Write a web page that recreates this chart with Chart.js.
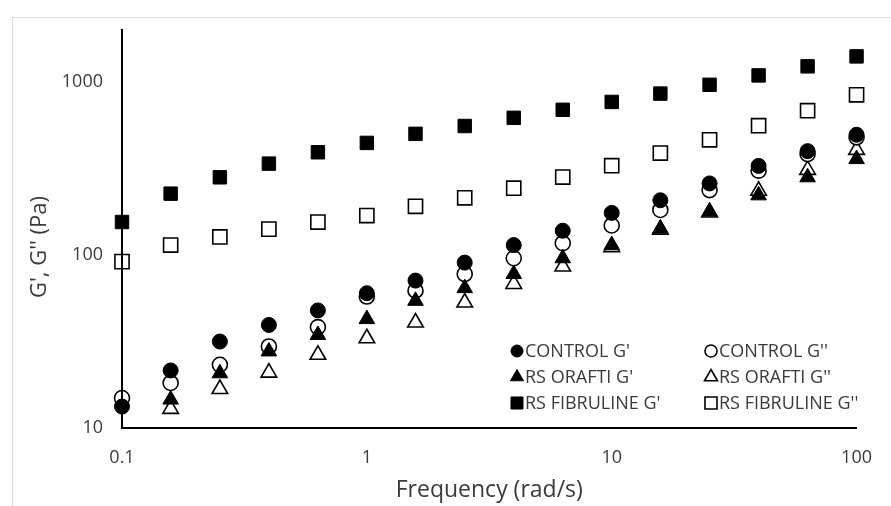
<!DOCTYPE html>
<html>
<head>
<meta charset="utf-8">
<script src="https://cdn.jsdelivr.net/npm/chart.js@4.4.1/dist/chart.umd.min.js"></script>
<style>
    html, body { margin: 0; padding: 0; background: #fff; overflow: hidden; }
</style>
</head>
<body>
<canvas id="grafica_g" width="891" height="506"></canvas>
<script>
// Barrido de frecuencia: modulo elastico (G') y viscoso (G'') de cada muestra.
var frecuencia = [0.1, 0.158, 0.251, 0.398, 0.631, 1, 1.58, 2.51, 3.98, 6.31,
    10, 15.8, 25.1, 39.8, 63.1, 100];
var controlG1 = [13.3, 21.5, 31.6, 39.4, 47.8, 60.1, 71.1, 90.3, 114, 138,
    175, 207, 259, 327, 398, 495];
var controlG2 = [14.9, 18.2, 23.2, 29.6, 38.3, 57.5, 62.2, 77.6, 95.7, 117,
    148, 182, 237, 307, 383, 478];
var oraftiG1 = [null, 14.6, 20.7, 27.7, 34.5, 42.6, 54.3, 64.3, 77.6, 95.7,
    114, 142, 178, 221, 281, 358];
var oraftiG2 = [null, 12.9, 16.8, 20.9, 26.5, 33.0, 40.7, 53.1, 68.0, 85.7,
    111, 140, 176, 235, 310, 405];
var fibrulineG1 = [155, 226, 281, 337, 392, 444, 501, 556, 620, 690,
    766, 856, 962, 1090, 1230, 1404];
var fibrulineG2 = [91.5, 114, 127, 141, 155, 169, 191, 214, 243, 282,
    328, 388, 463, 558, 682, 842];
var ticksX = [0.1, 1, 10, 100];
var ticksY = [10, 100, 1000];
var etiquetas = ["CONTROL G'", "CONTROL G''", "RS ORAFTI G'", "RS ORAFTI G''",
    "RS FIBRULINE G'", "RS FIBRULINE G''"];

var colorTexto = '#3a3a3a';
var fuente = "'Open Sans', sans-serif";

function puntos(valores) {
    return frecuencia.map(function (f, i) {
        return { x: f, y: valores[i] };
    });
}

// Crea un dataset de solo marcadores, relleno o hueco.
function getScatterDataSet(label, valores, estilo, radio, relleno, orden) {
    return {
        label: label,
        data: puntos(valores),
        pointStyle: estilo,
        pointRadius: radio,
        pointHoverRadius: radio,
        pointBorderWidth: relleno ? 1 : 1.6,
        pointBorderColor: '#000',
        pointBackgroundColor: relleno ? '#000' : '#fff',
        showLine: false,
        clip: false,
        order: orden
    };
}

var datasets = [
    getScatterDataSet(etiquetas[0], controlG1, 'circle', 7.5, true, 0),
    getScatterDataSet(etiquetas[1], controlG2, 'circle', 7.5, false, 2),
    getScatterDataSet(etiquetas[2], oraftiG1, 'triangle', 9, true, 1),
    getScatterDataSet(etiquetas[3], oraftiG2, 'triangle', 9, false, 3),
    getScatterDataSet(etiquetas[4], fibrulineG1, 'rect', 9.5, true, 4),
    getScatterDataSet(etiquetas[5], fibrulineG2, 'rect', 10, false, 5)
];

// Marco gris del area del grafico.
var marco = {
    id: 'marco',
    beforeDraw: function (chart) {
        var ctx = chart.ctx;
        ctx.save();
        ctx.strokeStyle = '#d9d9d9';
        ctx.lineWidth = 1;
        ctx.strokeRect(12.5, 17.5, 1000, 1000);
        ctx.restore();
    }
};

// Titulo del eje Y y leyenda en dos columnas dentro del area de trazado.
var extras = {
    id: 'extras',
    afterDraw: function (chart) {
        var ctx = chart.ctx;
        ctx.save();
        ctx.fillStyle = colorTexto;
        ctx.font = "22px " + fuente;
        ctx.textAlign = 'center';
        ctx.textBaseline = 'middle';
        ctx.translate(40, 247);
        ctx.rotate(-Math.PI / 2);
        ctx.fillText("G', G'' (Pa)", 0, 0);
        ctx.restore();

        var colX = [517, 711];
        var filaY = [351, 377, 403];
        var radios = { circle: 6, triangle: 7.5, rect: 8.5 };
        ctx.save();
        ctx.font = "18px " + fuente;
        ctx.textAlign = 'left';
        ctx.textBaseline = 'middle';
        chart.data.datasets.forEach(function (ds, i) {
            var x = colX[i % 2];
            var y = filaY[Math.floor(i / 2)];
            ctx.fillStyle = ds.pointBackgroundColor;
            ctx.strokeStyle = '#000';
            ctx.lineWidth = ds.pointBorderWidth;
            Chart.helpers.drawPoint(ctx, {
                pointStyle: ds.pointStyle,
                rotation: 0,
                radius: radios[ds.pointStyle],
                borderWidth: ds.pointBorderWidth
            }, x, y);
            ctx.fillStyle = colorTexto;
            ctx.fillText(ds.label, x + 8, y + 1);
        });
        ctx.restore();
    }
};

var chart = new Chart(document.getElementById('grafica_g').getContext('2d'), {
    type: 'scatter',
    data: { datasets: datasets },
    options: {
        responsive: false,
        animation: false,
        events: [],
        layout: { padding: { top: 29, right: 23, left: 0, bottom: 0 } },
        plugins: {
            legend: { display: false },
            tooltip: { enabled: false }
        },
        scales: {
            x: {
                type: 'logarithmic',
                min: 0.1,
                max: 100,
                afterBuildTicks: function (scale) {
                    scale.ticks = ticksX.map(function (v) { return { value: v }; });
                },
                afterFit: function (scale) { scale.height = 78; },
                grid: { display: false, drawTicks: false },
                border: { display: true, color: '#000', width: 2, z: 1 },
                ticks: {
                    color: colorTexto,
                    padding: 19,
                    maxRotation: 0,
                    font: { family: fuente, size: 18 },
                    callback: function (v) { return String(v); }
                },
                title: {
                    display: true,
                    text: 'Frequency (rad/s)',
                    color: colorTexto,
                    font: { family: fuente, size: 23 },
                    padding: { top: 0, bottom: 2 }
                }
            },
            y: {
                type: 'logarithmic',
                min: 10,
                max: 2000,
                afterBuildTicks: function (scale) {
                    scale.ticks = ticksY.map(function (v) { return { value: v }; });
                },
                afterFit: function (scale) { scale.width = 122; },
                grid: { display: false, drawTicks: false },
                border: { display: true, color: '#000', width: 2, z: 1 },
                ticks: {
                    color: colorTexto,
                    padding: 19,
                    font: { family: fuente, size: 18 },
                    callback: function (v) { return String(v); }
                }
            }
        }
    },
    plugins: [marco, extras]
});
</script>
</body>
</html>
